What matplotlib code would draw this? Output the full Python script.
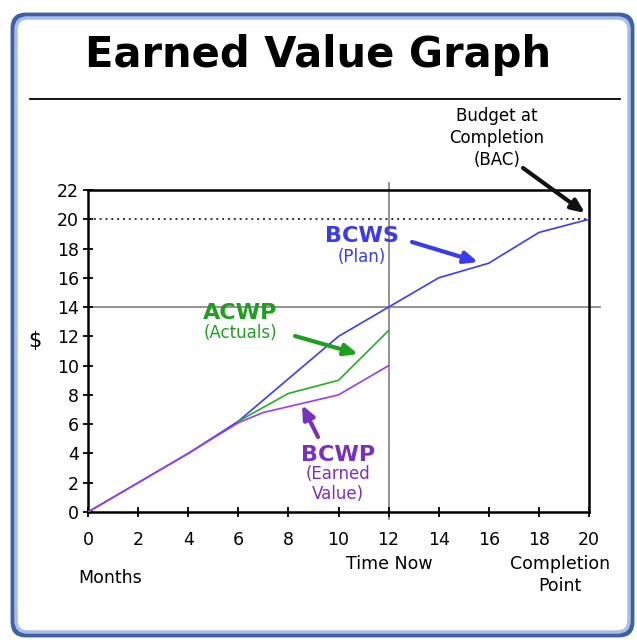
import matplotlib
matplotlib.use("Agg")
import matplotlib.pyplot as plt
from matplotlib.patches import FancyBboxPatch
from matplotlib.lines import Line2D

W, H = 637, 642

# ---- data ----
months_ticks = [0, 2, 4, 6, 8, 10, 12, 14, 16, 18, 20]
y_ticks = [0, 2, 4, 6, 8, 10, 12, 14, 16, 18, 20, 22]

bcws_x = [0, 2, 4, 6, 8, 10, 12, 14, 16, 18, 20]
bcws_y = [0, 2.0, 4.0, 6.2, 9.1, 12.0, 14.0, 16.0, 17.0, 19.1, 20.0]

acwp_x = [6, 8, 10, 12]
acwp_y = [6.2, 8.1, 9.0, 12.4]

bcwp_x = [0, 2, 4, 6, 7, 8, 10, 12]
bcwp_y = [0, 2.0, 4.0, 6.1, 6.8, 7.2, 8.0, 10.0]

bac = 20
time_now = 12
time_now_value = 14

def fx(px):
    return px / W

def fy(py):
    return 1 - py / H

fig = plt.figure(figsize=(W / 100, H / 100), dpi=100)
fig.patch.set_facecolor("white")

# outer rounded frame
frame = FancyBboxPatch((fx(13), fy(635)), fx(632) - fx(13), fy(15) - fy(635),
                       boxstyle="round,pad=0,rounding_size=0.02",
                       transform=fig.transFigure, facecolor="none",
                       edgecolor="#3f5fa8", linewidth=3.5, zorder=-10)
fig.patches.append(frame)
frame2 = FancyBboxPatch((fx(16), fy(632)), fx(629) - fx(16), fy(18) - fy(632),
                        boxstyle="round,pad=0,rounding_size=0.018",
                        transform=fig.transFigure, facecolor="none",
                        edgecolor="#a9bde6", linewidth=2.5, zorder=-10)
fig.patches.append(frame2)

# title
fig.text(fx(318), fy(55), "Earned Value Graph", ha="center", va="center",
         fontsize=30, fontweight="black", family="DejaVu Sans", color="black")
fig.add_artist(Line2D([fx(30), fx(620)], [fy(99), fy(99)], color="black",
                      lw=1.3, transform=fig.transFigure))

ax = fig.add_axes([fx(88), fy(512), fx(589) - fx(88), fy(190) - fy(512)])
ax.set_facecolor("none")
ax.set_xlim(0, 20)
ax.set_ylim(0, 22)
ax.set_xticks(months_ticks)
ax.set_yticks(y_ticks)
ax.tick_params(direction="inout", length=7, width=1.3, labelsize=12.5, pad=3)
ax.tick_params(axis="x", pad=10)
for s in ax.spines.values():
    s.set_linewidth(1.8)

# reference lines
ax.plot([0, 20], [bac, bac], color="#333333", lw=1.4, ls=(0, (1, 2)), zorder=2)
ax.plot([-0.05, 20.45], [time_now_value, time_now_value], color="#8a8a8a", lw=1.3,
        clip_on=False, zorder=1)
ax.plot([time_now, time_now], [-0.5, 22.5], color="#8a8a8a", lw=1.3,
        clip_on=False, zorder=1)

# series
ax.plot(bcws_x, bcws_y, color="#3b3bff", lw=1.2, zorder=3)
ax.plot(acwp_x, acwp_y, color="#22b022", lw=1.2, zorder=3)
ax.plot(bcwp_x, bcwp_y, color="#9a3cf0", lw=1.2, zorder=4)

# labels
fig.text(fx(35), fy(341), "$", ha="center", va="center", fontsize=15)
fig.text(fx(110), fy(578), "Months", ha="center", va="center", fontsize=12.5)
fig.text(fx(389), fy(564), "Time Now", ha="center", va="center", fontsize=12.5)
fig.text(fx(560), fy(575), "Completion\nPoint", ha="center", va="center",
         fontsize=12.5, linespacing=1.35)
fig.text(fx(497), fy(138), "Budget at\nCompletion\n(BAC)", ha="center",
         va="center", fontsize=12, linespacing=1.3)

fig.text(fx(362), fy(236), "BCWS", ha="center", va="center", fontsize=16,
         fontweight="bold", color="#3a3aee")
fig.text(fx(362), fy(257), "(Plan)", ha="center", va="center", fontsize=12,
         color="#3a3aee")
fig.text(fx(240), fy(313), "ACWP", ha="center", va="center", fontsize=16,
         fontweight="bold", color="#1f9f1f")
fig.text(fx(240), fy(333), "(Actuals)", ha="center", va="center", fontsize=12,
         color="#1f9f1f")
fig.text(fx(338), fy(455), "BCWP", ha="center", va="center", fontsize=16,
         fontweight="bold", color="#7a2fc0")
fig.text(fx(338), fy(484), "(Earned\nValue)", ha="center", va="center",
         fontsize=12, color="#7a2fc0", linespacing=1.2)

def arrow(x0, y0, x1, y1, color):
    ax.annotate("", xy=(fx(x1), fy(y1)), xycoords="figure fraction",
                xytext=(fx(x0), fy(y0)), textcoords="figure fraction",
                arrowprops=dict(arrowstyle="-|>,head_width=0.35,head_length=0.8",
                                color=color, lw=3, shrinkA=0, shrinkB=0),
                annotation_clip=False, zorder=6)

arrow(523, 168, 585, 213, "#111111")
arrow(412, 242, 478, 262, "#3a3aee")
arrow(295, 336, 358, 354, "#1f9f1f")
arrow(318, 437, 302, 405, "#7a2fc0")

fig.savefig("out.png", dpi=100, facecolor="white")
